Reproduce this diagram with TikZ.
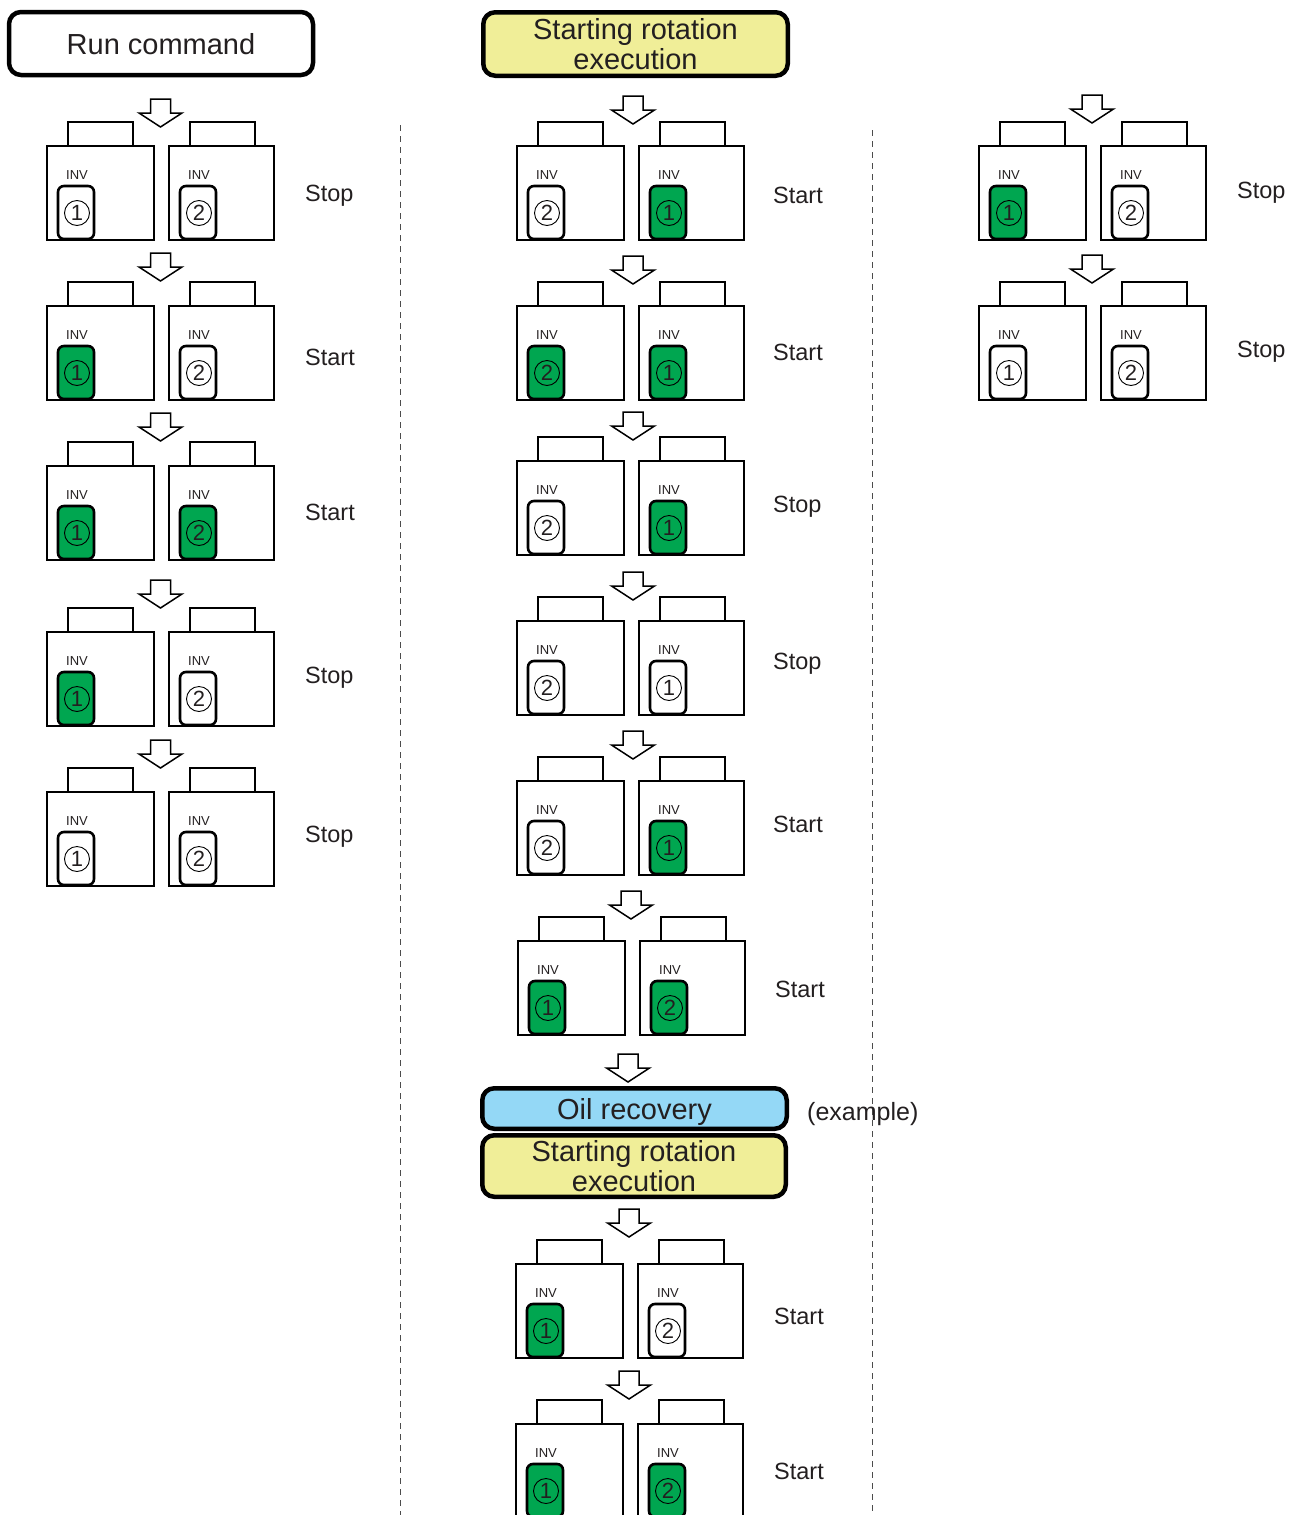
\documentclass[tikz,border=0pt]{standalone}
\usepackage{fontspec}
\setmainfont{Liberation Sans}
\usetikzlibrary{calc}
\definecolor{invgreen}{HTML}{00A650}
\definecolor{hdryellow}{HTML}{F0EE98}
\definecolor{hdrblue}{HTML}{94D8F6}
\definecolor{txt}{HTML}{231F20}
\tikzset{
 unitbox/.style={draw=black, line width=1.5pt, fill=white, inner sep=0pt, outer sep=0pt, anchor=north west, minimum height=94pt},
 capbox/.style={draw=black, line width=1.5pt, fill=white, inner sep=0pt, outer sep=0pt, anchor=south west, minimum width=65pt, minimum height=24pt},
 invbox/.style={draw=black, line width=2.6pt, rounded corners=6pt, inner sep=0pt, outer sep=0pt, anchor=south west, minimum width=36pt, minimum height=53pt},
 numcirc/.style={circle, draw=black, line width=0.9pt, inner sep=0pt, minimum size=25pt, font=\fontsize{22}{22}\selectfont, text=txt},
 invlabel/.style={font=\fontsize{13}{13}\selectfont, text=txt, inner sep=0pt},
 statelabel/.style={font=\fontsize{23.5}{24}\selectfont, text=txt, anchor=base west, inner sep=0pt},
 header/.style={draw=black, line width=4.5pt, rounded corners=12pt, inner sep=0pt, text depth=0pt, font=\fontsize{29}{30}\selectfont, text=txt, align=center},
 flowarrow/.style={draw=black, line width=1.5pt, fill=white, line join=miter},
 divider/.style={draw=black!70, line width=1pt, dash pattern=on 6pt off 5pt},
}
% #1 name, #2 x, #3 top y, #4 width, #5 number, #6 fill
\newcommand\invunit[6]{%
 \node[capbox] (#1cap) at ({#2+21},{#3}) {};
 \node[unitbox, minimum width=#4] (#1) at ({#2},{#3}) {};
 \node[invlabel] (#1lbl) at ({#2+30},{#3+29}) {INV};
 \node[invbox, fill=#6] (#1inv) at ({#2+11},{#3+93}) {};
 \node[numcirc] (#1num) at ({#2+30},{#3+67}) {#5};
}
\newcommand\invpair[7]{%
 \invunit{#1a}{#2}{#3}{107pt}{#4}{#5}%
 \invunit{#1b}{#2+122}{#3}{105pt}{#6}{#7}%
}
\newcommand\flowdown[3]{%
 \coordinate (#1) at (#2,#3);
 \draw[flowarrow] ($(#1)+(-10,0)$) -- ++(20,0) -- ++(0,14) -- ++(11.5,0) -- ($(#1)+(0,28)$) -- ($(#1)+(-21.5,14)$) -- ++(11.5,0) -- cycle;
}
% state label: #1 name, #2 x, #3 visual centre y, #4 text
\newcommand\statetext[4]{\node[statelabel] (#1) at ({#2},{#3+8.5}) {#4};}
\begin{document}
\begin{tikzpicture}[x=1pt,y=-1pt]
\useasboundingbox (0,0) rectangle (1300,1515);
\clip (0,0) rectangle (1300,1515);
\fill[white] (0,0) rectangle (1300,1515);

% dividers
\coordinate (d1t) at (400,125); \coordinate (d1b) at (400,1515);
\coordinate (d2t) at (872,130); \coordinate (d2b) at (872,1515);
\draw[divider] (d1t) -- (d1b);
\draw[divider] (d2t) -- (d2b);

% headers
\node[header, fill=white, minimum width=304pt, minimum height=63pt] (run) at (161,43.5) {Run command};
\node[header, fill=hdryellow, minimum width=304.5pt, minimum height=63.5pt] (srot1) at (635.5,44) {Starting rotation\\execution};
\node[header, fill=hdrblue, minimum width=304.5pt, minimum height=40.5pt] (oil) at (634.5,1108.5) {Oil recovery};
\node[header, fill=hdryellow, minimum width=303.5pt, minimum height=61.5pt] (srot2) at (634,1166) {Starting rotation\\execution};
\node[statelabel, font=\fontsize{25}{25}\selectfont] (example) at (807,1120) {(example)};

% left column
\flowdown{la1}{160.5}{99}
\invpair{L1}{47}{146}{1}{white}{2}{white}
\statetext{L1s}{305}{193}{Stop}
\flowdown{la2}{160.5}{253}
\invpair{L2}{47}{306}{1}{invgreen}{2}{white}
\statetext{L2s}{305}{357}{Start}
\flowdown{la3}{160.5}{413}
\invpair{L3}{47}{466}{1}{invgreen}{2}{invgreen}
\statetext{L3s}{305}{512}{Start}
\flowdown{la4}{160.5}{580}
\invpair{L4}{47}{632}{1}{invgreen}{2}{white}
\statetext{L4s}{305}{675}{Stop}
\flowdown{la5}{160.5}{740}
\invpair{L5}{47}{792}{1}{white}{2}{white}
\statetext{L5s}{305}{834}{Stop}

% middle column
\flowdown{ma1}{633}{96}
\invpair{M1}{517}{146}{2}{white}{1}{invgreen}
\statetext{M1s}{773}{195}{Start}
\flowdown{ma2}{633}{256}
\invpair{M2}{517}{306}{2}{invgreen}{1}{invgreen}
\statetext{M2s}{773}{352}{Start}
\flowdown{ma3}{633}{412}
\invpair{M3}{517}{461}{2}{white}{1}{invgreen}
\statetext{M3s}{773}{504}{Stop}
\flowdown{ma4}{633}{572}
\invpair{M4}{517}{621}{2}{white}{1}{white}
\statetext{M4s}{773}{661}{Stop}
\flowdown{ma5}{633}{731}
\invpair{M5}{517}{781}{2}{white}{1}{invgreen}
\statetext{M5s}{773}{824}{Start}
\flowdown{ma6}{631}{891}
\invpair{M6}{518}{941}{1}{invgreen}{2}{invgreen}
\statetext{M6s}{775}{989}{Start}
\flowdown{ma7}{628}{1054}
\flowdown{ma8}{629}{1209}
\invpair{M7}{516}{1264}{1}{invgreen}{2}{white}
\statetext{M7s}{774}{1316}{Start}
\flowdown{ma9}{629}{1371}
\invpair{M8}{516}{1424}{1}{invgreen}{2}{invgreen}
\statetext{M8s}{774}{1471}{Start}

% right column
\flowdown{ra1}{1092}{95}
\invpair{R1}{979}{146}{1}{invgreen}{2}{white}
\statetext{R1s}{1237}{190}{Stop}
\flowdown{ra2}{1092}{255}
\invpair{R2}{979}{306}{1}{white}{2}{white}
\statetext{R2s}{1237}{349}{Stop}
\end{tikzpicture}
\end{document}
